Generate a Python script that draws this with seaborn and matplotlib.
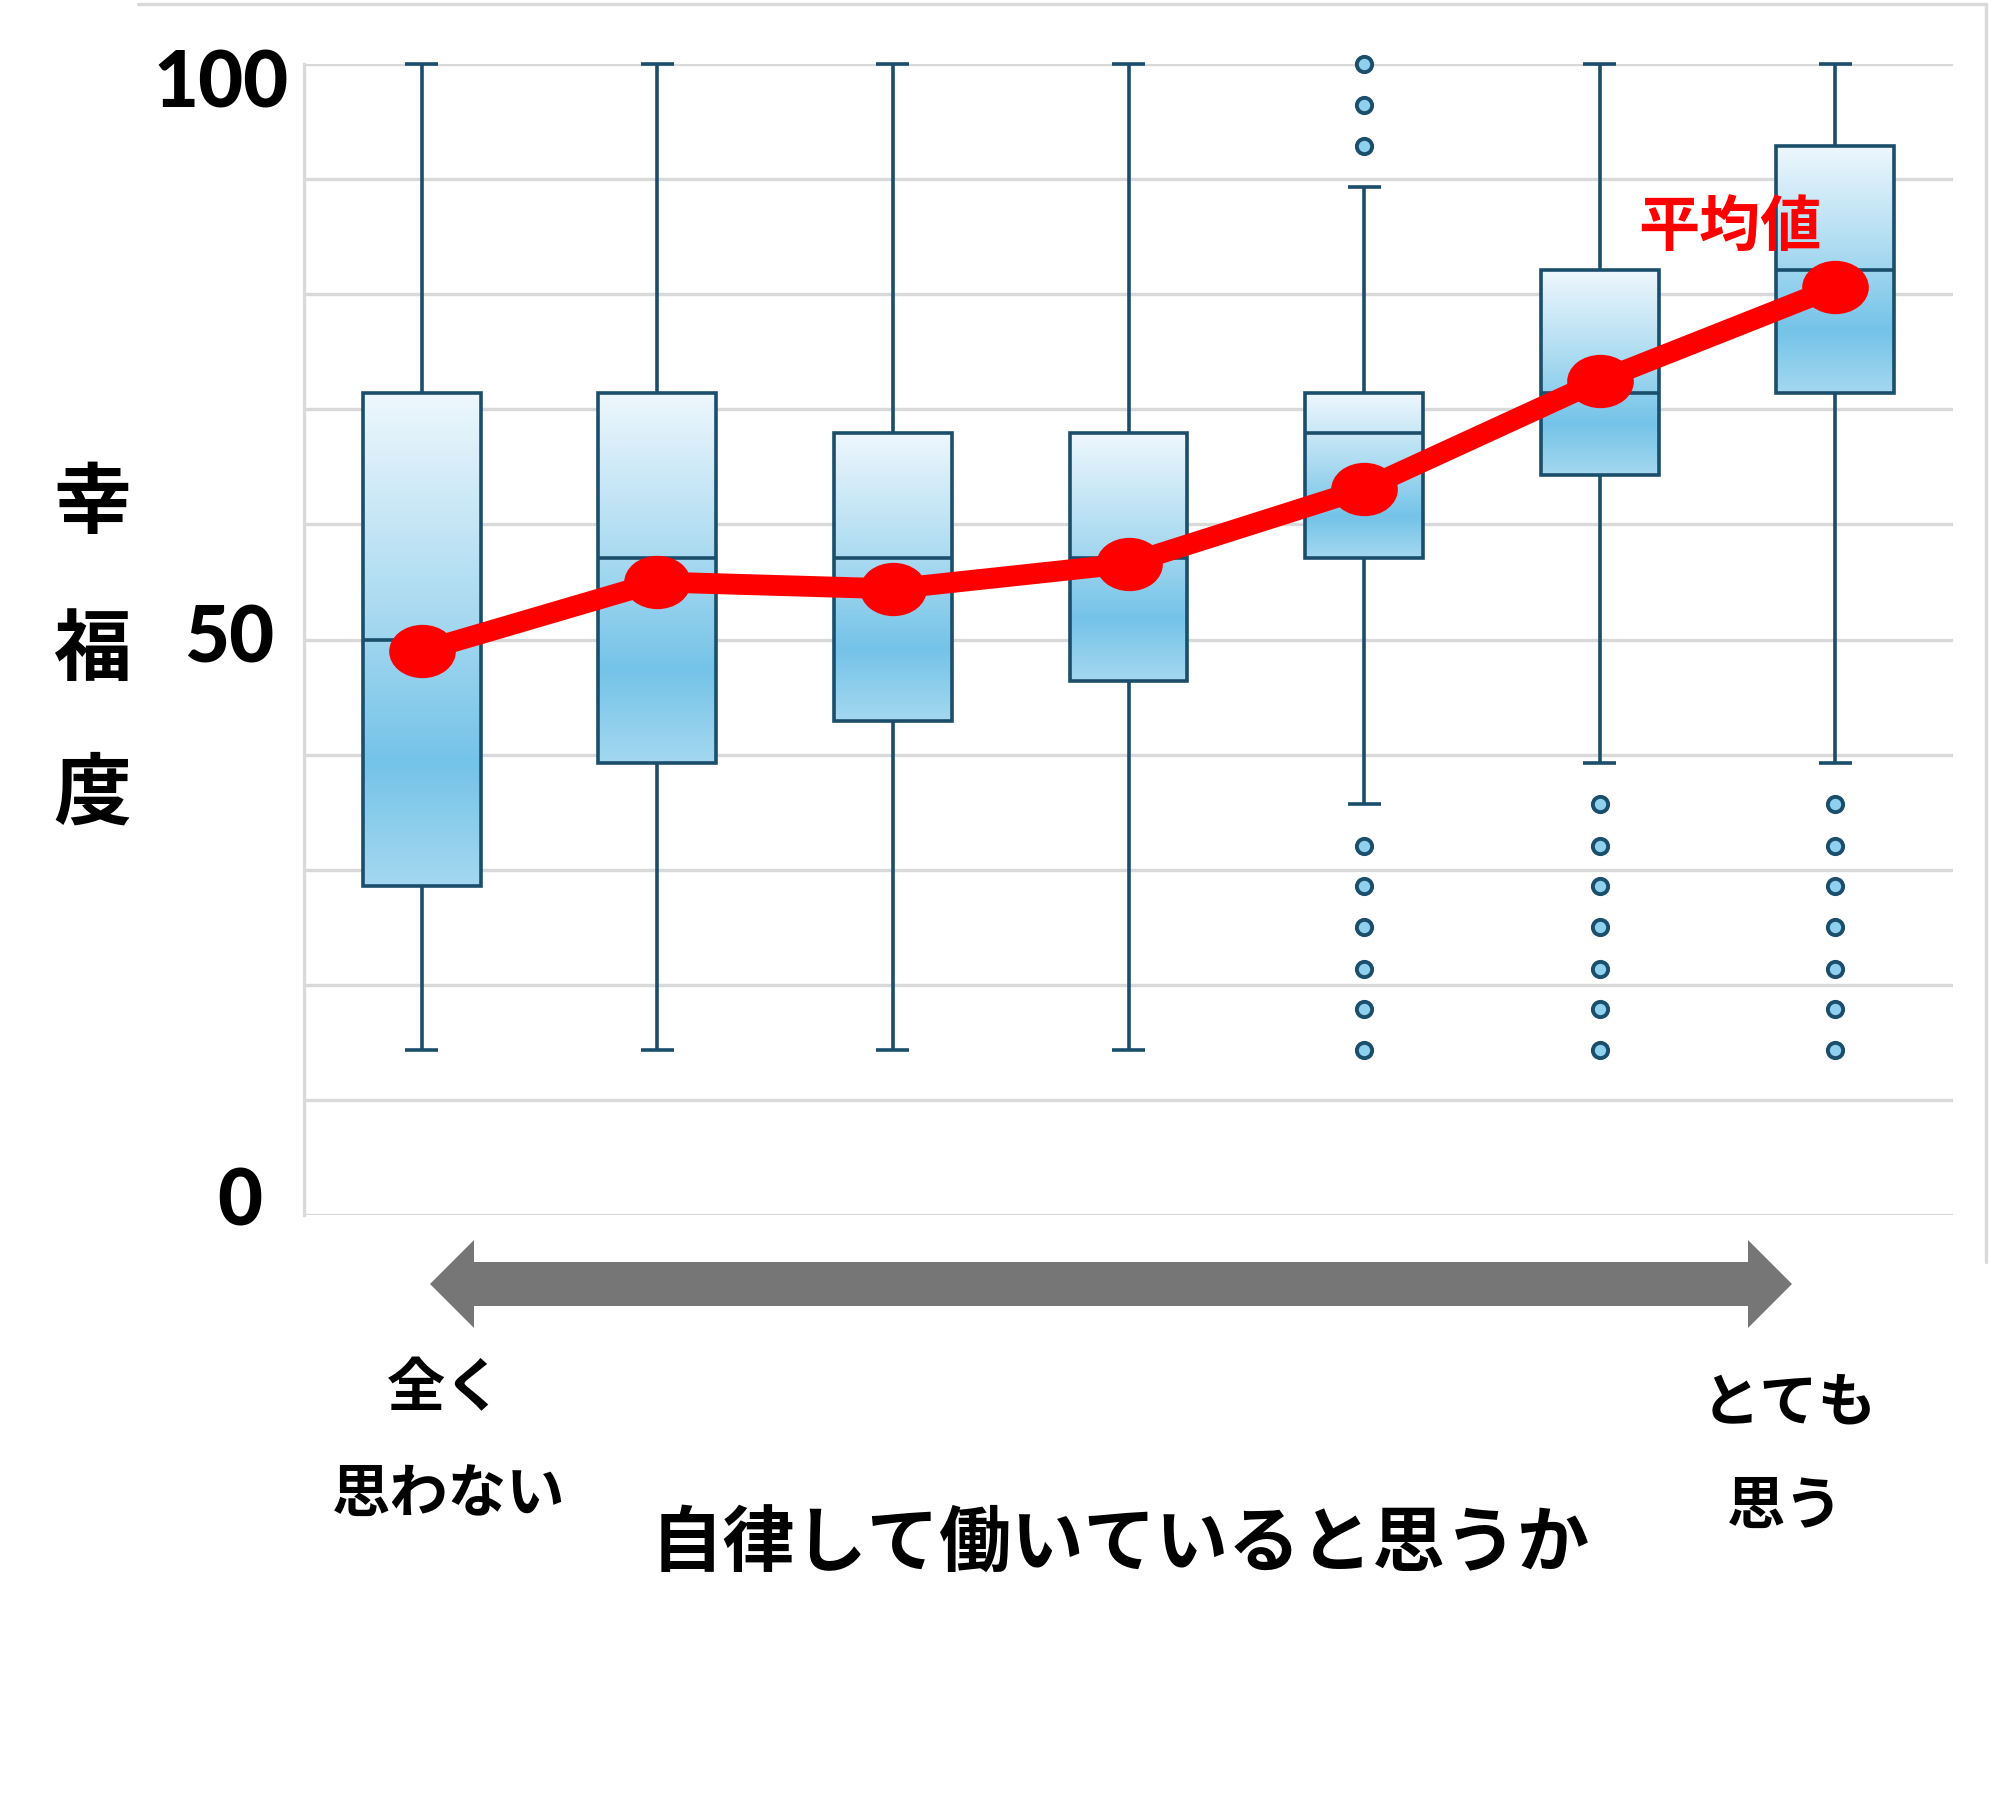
import numpy as np
import pandas as pd
import matplotlib
matplotlib.use("Agg")
import matplotlib.pyplot as plt
import seaborn as sns
from matplotlib.colors import LinearSegmentedColormap
from matplotlib.path import Path
from matplotlib.transforms import Affine2D, ScaledTranslation
from matplotlib.patches import Polygon
from matplotlib.lines import Line2D
from matplotlib.ticker import MultipleLocator

# Answer groups, 1 = 全く思わない ... 7 = とても思う
groups = ["1", "2", "3", "4", "5", "6", "7"]

# Five-number summaries of 幸福度 for each group
whisker_low = [14.3, 14.3, 14.3, 14.3, 35.7, 39.3, 39.3]
quartile_1 = [28.6, 39.3, 42.9, 46.4, 57.1, 64.3, 71.4]
medians = [50.0, 57.1, 57.1, 57.1, 67.9, 71.4, 82.1]
quartile_3 = [71.4, 71.4, 67.9, 67.9, 71.4, 82.1, 92.9]
whisker_high = [100.0, 100.0, 100.0, 100.0, 89.3, 100.0, 100.0]

# Outlying answers
outliers_5 = [100.0, 96.4, 92.9, 32.1, 28.6, 25.0, 21.4, 17.9, 14.3]
outliers_6 = [35.7, 32.1, 28.6, 25.0, 21.4, 17.9, 14.3]
outliers_7 = [35.7, 32.1, 28.6, 25.0, 21.4, 17.9, 14.3]

# Group means (平均値)
mean_scores = [49.0, 55.0, 54.4, 56.6, 63.1, 72.5, 80.6]

y_ticks = [0, 50, 100]
y_tick_labels = ["0", "50", "100"]

EDGE = "#1a4e6b"
GRID = "#d9d9d9"
RED = "#ff0000"
ARROW = "#767676"

# five values per group reproduce the quartiles exactly (linear percentiles)
box_rows = []
for g, a, b, c, d, e in zip(groups, whisker_low, quartile_1, medians, quartile_3, whisker_high):
    for v in (a, b, c, d, e):
        box_rows.append({"group": g, "score": v})
box_df = pd.DataFrame(box_rows)

out_df = pd.DataFrame(
    {"group": ["5"] * len(outliers_5) + ["6"] * len(outliers_6) + ["7"] * len(outliers_7),
     "score": outliers_5 + outliers_6 + outliers_7}
)

sns.set_style("white")
plt.rcParams["font.family"] = ["Noto Sans CJK JP", "DejaVu Sans"]
plt.rcParams["text.color"] = "black"
plt.rcParams["ytick.color"] = "black"

W, H = 2011, 1813
fig = plt.figure(figsize=(W / 100, H / 100), dpi=100)


def fx(px):
    return px / W


def fy(py):
    return 1 - py / H


ax = fig.add_axes([fx(304), fy(1215), fx(1953) - fx(304), fy(64) - fy(1215)])

sns.boxplot(data=box_df, x="group", y="score", order=groups, whis=(0, 100),
            width=0.5, color="#8fcdec", linecolor=EDGE, linewidth=2.6,
            fliersize=0, capwidths=0.14, ax=ax)

ax.set_xlim(-0.5, 6.5)
ax.set_ylim(0, 100)

# vertical gradient inside each box
box_cmap = LinearSegmentedColormap.from_list(
    "boxfill", [(0.0, "#a4d8f0"), (0.25, "#74c3e8"), (0.6, "#b0ddf2"), (1.0, "#eef7fd")])
grad = np.linspace(0, 1, 256).reshape(-1, 1)
for patch in list(ax.patches):
    ext = patch.get_path().get_extents(patch.get_patch_transform())
    x0, y0, x1, y1 = ext.x0, ext.y0, ext.x1, ext.y1
    im = ax.imshow(grad, cmap=box_cmap, origin="lower", extent=[x0, x1, y0, y1],
                   aspect="auto", interpolation="bicubic", zorder=patch.get_zorder() - 0.05)
    im.set_clip_path(patch)
    patch.set_facecolor("none")
    patch.set_edgecolor(EDGE)

for ln in ax.lines:
    ln.set_clip_on(False)
    ln.set_solid_capstyle("butt")

ax.set_xlim(-0.5, 6.5)
ax.set_ylim(0, 100)

sns.stripplot(data=out_df, x="group", y="score", order=groups, jitter=False,
              size=11, color="#8fd0ef", edgecolor=EDGE, linewidth=2.8,
              ax=ax, zorder=4, clip_on=False)

ellipse = Path(Affine2D().scale(1.0, 0.8).transform(Path.unit_circle().vertices),
               Path.unit_circle().codes)
n_before = len(ax.lines)
sns.pointplot(x=groups, y=mean_scores, order=groups, color=RED, errorbar=None,
              markers="o", markersize=48, linewidth=15, ax=ax, zorder=6)
for ln in ax.lines[n_before:]:
    ln.set_marker(ellipse)
    ln.set_markersize(48)
    ln.set_markeredgewidth(0)
    ln.set_clip_on(False)

ax.set_xlim(-0.5, 6.5)
ax.set_ylim(0, 100)
ax.set_xlabel("")
ax.set_ylabel("")
ax.set_xticks([])
ax.set_yticks(y_ticks)
ax.set_yticklabels(y_tick_labels, fontfamily="Lato", fontweight="black", fontsize=56)
ax.yaxis.set_minor_locator(MultipleLocator(10))
ax.tick_params(axis="y", which="both", length=0, pad=24)
ax.yaxis.grid(True, which="both", color=GRID, linewidth=2.4)
ax.set_axisbelow(True)
for side in ("top", "right", "bottom"):
    ax.spines[side].set_visible(False)
ax.spines["left"].set_color(GRID)
ax.spines["left"].set_linewidth(2.4)

# nudge the value labels the way the original axis sets them
label_shift_px = {"0": (-8, 18), "50": (4, 6), "100": (18, -14)}
for lab in ax.get_yticklabels():
    dx, dy = label_shift_px.get(lab.get_text(), (0, 0))
    lab.set_transform(lab.get_transform() + ScaledTranslation(dx / 100, dy / 100, fig.dpi_scale_trans))

# y-axis title, one character per line
for ch, py in zip("幸福度", (504, 651, 795)):
    fig.text(fx(92), fy(py), ch, ha="center", va="center", fontsize=56, fontweight="bold")

# chart frame
fig.add_artist(Line2D([fx(138), fx(1986)], [fy(4), fy(4)], color=GRID, lw=2.4,
                      transform=fig.transFigure))
fig.add_artist(Line2D([fx(1986), fx(1986)], [fy(4), fy(1262)], color=GRID, lw=2.4,
                      transform=fig.transFigure))

# double-headed arrow under the axis
xl, xr, yc = 430, 1792, 1284
shaft, head, head_len = 22, 44, 44
arrow_px = [(xl, yc), (xl + head_len, yc - head), (xl + head_len, yc - shaft),
            (xr - head_len, yc - shaft), (xr - head_len, yc - head), (xr, yc),
            (xr - head_len, yc + head), (xr - head_len, yc + shaft),
            (xl + head_len, yc + shaft), (xl + head_len, yc + head)]
fig.add_artist(Polygon([(fx(x), fy(y)) for x, y in arrow_px], closed=True,
                       facecolor=ARROW, edgecolor="none", transform=fig.transFigure))

fig.text(fx(445), fy(1389), "全く", ha="center", va="center", fontsize=42, fontweight="bold")
fig.text(fx(449), fy(1496), "思わない", ha="center", va="center", fontsize=42, fontweight="bold")
fig.text(fx(1789), fy(1403), "とても", ha="center", va="center", fontsize=42, fontweight="bold")
fig.text(fx(1785), fy(1507), "思う", ha="center", va="center", fontsize=42, fontweight="bold")
fig.text(fx(1120), fy(1546), "自律して働いていると思うか", ha="center", va="center",
         fontsize=52, fontweight="bold")
fig.text(fx(1730), fy(228), "平均値", ha="center", va="center", fontsize=44,
         fontweight="bold", color=RED)

fig.savefig("out.png", dpi=100, facecolor="white")
